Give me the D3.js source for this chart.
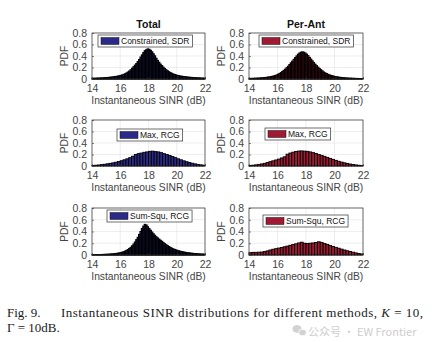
<!DOCTYPE html>
<html><head><meta charset="utf-8">
<script src="https://cdn.jsdelivr.net/npm/d3@7"></script>
<style>html,body{margin:0;padding:0;background:#fff;} svg{display:block;}</style>
</head><body>
<svg id="c" width="443" height="342"></svg>
<script>
// ---------------- data ----------------
const columnTitles = ["Total", "Per-Ant"];
const methodNames = ["Constrained, SDR", "Max, RCG", "Sum-Squ, RCG"];
const xTicks = [14, 16, 18, 20, 22];
const yTicks = [0, 0.2, 0.4, 0.6, 0.8];
const xLabel = "Instantaneous SINR (dB)";
const yLabel = "PDF";
const binStart = 14;
const binWidthFine = 0.1;
const binWidthCoarse = 0.2;

const totalSDR = [0.011,0.012,0.012,0.014,0.015,0.015,0.017,0.018,0.020,0.022,
 0.023,0.026,0.028,0.031,0.034,0.038,0.042,0.045,0.050,0.056,
 0.062,0.070,0.079,0.090,0.104,0.120,0.138,0.160,0.186,0.212,
 0.240,0.268,0.302,0.338,0.380,0.418,0.458,0.492,0.508,0.522,
 0.515,0.498,0.472,0.438,0.402,0.360,0.322,0.290,0.258,0.232,
 0.205,0.182,0.160,0.142,0.125,0.110,0.098,0.086,0.078,0.069,
 0.062,0.056,0.051,0.047,0.043,0.039,0.036,0.033,0.030,0.028,
 0.026,0.024,0.022,0.020,0.019,0.018,0.016,0.015,0.014,0.013];

const perAntSDR = [0.008,0.009,0.010,0.011,0.012,0.013,0.014,0.016,0.018,0.020,
 0.022,0.025,0.028,0.032,0.036,0.040,0.046,0.052,0.060,0.070,
 0.082,0.095,0.110,0.130,0.150,0.170,0.195,0.220,0.250,0.280,
 0.310,0.340,0.370,0.400,0.430,0.450,0.465,0.470,0.465,0.450,
 0.430,0.405,0.375,0.345,0.315,0.285,0.255,0.230,0.205,0.180,
 0.160,0.140,0.120,0.105,0.092,0.080,0.070,0.062,0.055,0.048,
 0.042,0.037,0.033,0.029,0.026,0.023,0.020,0.018,0.016,0.014,
 0.013,0.012,0.011,0.010,0.009,0.008,0.008,0.007,0.006,0.006];

const totalMax = [0.010,0.014,0.018,0.024,0.030,0.038,0.046,0.055,0.066,0.078,
 0.092,0.108,0.125,0.145,0.170,0.200,0.215,0.225,0.238,0.245,
 0.255,0.258,0.250,0.245,0.232,0.215,0.200,0.182,0.165,0.145,
 0.125,0.108,0.090,0.074,0.060,0.048,0.037,0.028,0.020,0.014];

const perAntMax = [0.010,0.014,0.020,0.028,0.036,0.046,0.060,0.075,0.090,0.105,
 0.120,0.140,0.160,0.205,0.225,0.240,0.252,0.260,0.262,0.258,
 0.255,0.245,0.232,0.218,0.200,0.185,0.168,0.150,0.132,0.115,
 0.098,0.082,0.068,0.055,0.044,0.034,0.026,0.019,0.013,0.008];

const totalSumSqu = [0.004,0.004,0.005,0.005,0.006,0.006,0.007,0.008,0.009,0.010,
 0.011,0.012,0.014,0.016,0.018,0.020,0.023,0.026,0.030,0.035,
 0.040,0.047,0.055,0.065,0.078,0.092,0.110,0.130,0.155,0.185,
 0.220,0.260,0.300,0.350,0.400,0.450,0.490,0.520,0.510,0.480,
 0.450,0.420,0.390,0.360,0.335,0.310,0.290,0.270,0.250,0.232,
 0.212,0.192,0.175,0.158,0.142,0.128,0.115,0.104,0.094,0.085,
 0.077,0.070,0.063,0.057,0.052,0.047,0.042,0.038,0.035,0.032,
 0.029,0.026,0.024,0.022,0.020,0.018,0.016,0.015,0.014,0.012];

const perAntSumSqu = [0.040,0.045,0.045,0.048,0.050,0.060,0.070,0.085,0.098,0.108,
 0.118,0.128,0.140,0.152,0.165,0.178,0.190,0.205,0.218,0.200,
 0.195,0.200,0.205,0.212,0.225,0.215,0.195,0.180,0.162,0.145,
 0.130,0.115,0.100,0.085,0.072,0.060,0.048,0.036,0.026,0.018];

const captionNum = "Fig. 9.";
const captionLine2 = "Γ = 10dB.";
const watermark = "公众号 · EW Frontier";

// ---------------- layout / style ----------------
const colX = [[92, 205], [249, 363]];
const rowY = [[33, 79], [120, 166], [208, 255]];
const colColors = ["#2c2a88", "#a01a33"];
const legendPos = [[[98, 35], [259, 35]], [[117, 129], [265, 128]], [[107, 210], [263, 215]]];
const seriesGrid = [
  [[totalSDR, binWidthFine], [perAntSDR, binWidthFine]],
  [[totalMax, binWidthCoarse], [perAntMax, binWidthCoarse]],
  [[totalSumSqu, binWidthFine], [perAntSumSqu, binWidthCoarse]]
];
const sans = "'Liberation Sans', Arial, Helvetica, sans-serif";
const axisColor = "#444";

const svg = d3.select("#c");
svg.append("rect").attr("width", 443).attr("height", 342).attr("fill", "#fff");

function drawPanel(r, c) {
  const [x0, x1] = colX[c], [y0, y1] = rowY[r];
  const [vals, bw] = seriesGrid[r][c];
  const x = d3.scaleLinear().domain([xTicks[0], xTicks[xTicks.length - 1]]).range([x0, x1]);
  const y = d3.scaleLinear().domain([yTicks[0], yTicks[yTicks.length - 1]]).range([y1, y0]);
  const g = svg.append("g");

  // grid
  g.selectAll(".gx").data(xTicks).join("line")
    .attr("x1", d => x(d)).attr("x2", d => x(d)).attr("y1", y0).attr("y2", y1)
    .attr("stroke", "#e3e3e3").attr("stroke-width", 0.6);
  g.selectAll(".gy").data(yTicks).join("line")
    .attr("x1", x0).attr("x2", x1).attr("y1", d => y(d)).attr("y2", d => y(d))
    .attr("stroke", "#e3e3e3").attr("stroke-width", 0.6);

  // bars
  const bwPx = x(binStart + bw) - x(binStart);
  g.selectAll(".bar").data(vals).join("rect")
    .attr("x", (d, i) => x(binStart + i * bw))
    .attr("width", bwPx)
    .attr("y", d => y(d))
    .attr("height", d => y(0) - y(d))
    .attr("fill", colColors[c])
    .attr("stroke", "#000").attr("stroke-width", bw < 0.15 ? 1.2 : 0.9);

  // axes
  const ax = g.append("g").attr("transform", `translate(0,${y1})`)
    .call(d3.axisBottom(x).tickValues(xTicks).tickSize(-2).tickPadding(6).tickFormat(d3.format("d")));
  const ay = g.append("g").attr("transform", `translate(${x0},0)`)
    .call(d3.axisLeft(y).tickValues(yTicks).tickSize(-2).tickPadding(5).tickFormat(d => d === 0 ? "0" : d3.format(".1f")(d)));
  [ax, ay].forEach(a => {
    a.select(".domain").remove();
    a.selectAll("line").attr("stroke", "#333").attr("stroke-width", 0.6);
    a.selectAll("text").attr("font-family", sans).attr("font-size", 10.5).attr("fill", axisColor);
  });
  // box
  g.append("rect").attr("x", x0).attr("y", y0).attr("width", x1 - x0).attr("height", y1 - y0)
    .attr("fill", "none").attr("stroke", "#333").attr("stroke-width", 0.7);

  // labels
  g.append("text").attr("x", (x0 + x1) / 2).attr("y", y1 + 25).attr("text-anchor", "middle")
    .attr("font-family", sans).attr("font-size", 10.3).attr("fill", axisColor).text(xLabel);
  g.append("text").attr("transform", `translate(${x0 - 24},${(y0 + y1) / 2}) rotate(-90)`)
    .attr("text-anchor", "middle").attr("font-family", sans).attr("font-size", 10.3)
    .attr("fill", axisColor).text(yLabel);
  if (r === 0) {
    g.append("text").attr("x", (x0 + x1) / 2).attr("y", y0 - 5).attr("text-anchor", "middle")
      .attr("font-family", sans).attr("font-size", 10.5).attr("font-weight", "bold")
      .attr("fill", "#111").text(columnTitles[c]);
  }

  // legend
  const [lx, ly] = legendPos[r][c];
  const lg = g.append("g").attr("transform", `translate(${lx},${ly})`);
  const box = lg.append("rect").attr("fill", "#fff").attr("stroke", "#333").attr("stroke-width", 0.7);
  lg.append("rect").attr("x", 3).attr("y", 2.5).attr("width", 18).attr("height", 7)
    .attr("fill", colColors[c]).attr("stroke", "#111").attr("stroke-width", 0.5);
  const t = lg.append("text").attr("x", 23).attr("y", 9).attr("font-family", sans)
    .attr("font-size", 8.5).attr("fill", "#111").text(methodNames[r]);
  const tw = t.node().getComputedTextLength();
  box.attr("width", 23 + tw + 3).attr("height", 12);
}

for (let r = 0; r < 3; r++) for (let c = 0; c < 2; c++) drawPanel(r, c);

// caption
const serif = "'Liberation Serif', 'Times New Roman', serif";
svg.append("text").attr("x", 7).attr("y", 317).attr("font-family", serif).attr("font-size", 13)
  .attr("fill", "#1a1a1a").text(captionNum);
const cap1 = svg.append("text").attr("x", 61).attr("y", 317).attr("font-family", serif)
  .attr("font-size", 13).attr("fill", "#1a1a1a")
  .attr("textLength", 362).attr("lengthAdjust", "spacing");
cap1.append("tspan").text("Instantaneous SINR distributions for different methods, ");
cap1.append("tspan").attr("font-style", "italic").text("K");
cap1.append("tspan").text(" = 10,");
svg.append("text").attr("x", 7).attr("y", 332).attr("font-family", serif).attr("font-size", 13)
  .attr("fill", "#1a1a1a").text(captionLine2);

// watermark (placed just below caption line 1)
const wm = svg.append("g").attr("opacity", 0.75);
wm.append("ellipse").attr("cx", 297).attr("cy", 329).attr("rx", 4.6).attr("ry", 3.9).attr("fill", "#c4c4c4");
wm.append("ellipse").attr("cx", 302.5).attr("cy", 332.5).attr("rx", 3.9).attr("ry", 3.3).attr("fill", "#c4c4c4").attr("stroke", "#fff").attr("stroke-width", 0.8);
wm.append("text").attr("x", 308).attr("y", 336).attr("font-family", "'Noto Sans CJK SC', 'Noto Sans', sans-serif")
  .attr("font-size", 11).attr("fill", "#bdbdbd").text(watermark);
</script></body></html>
